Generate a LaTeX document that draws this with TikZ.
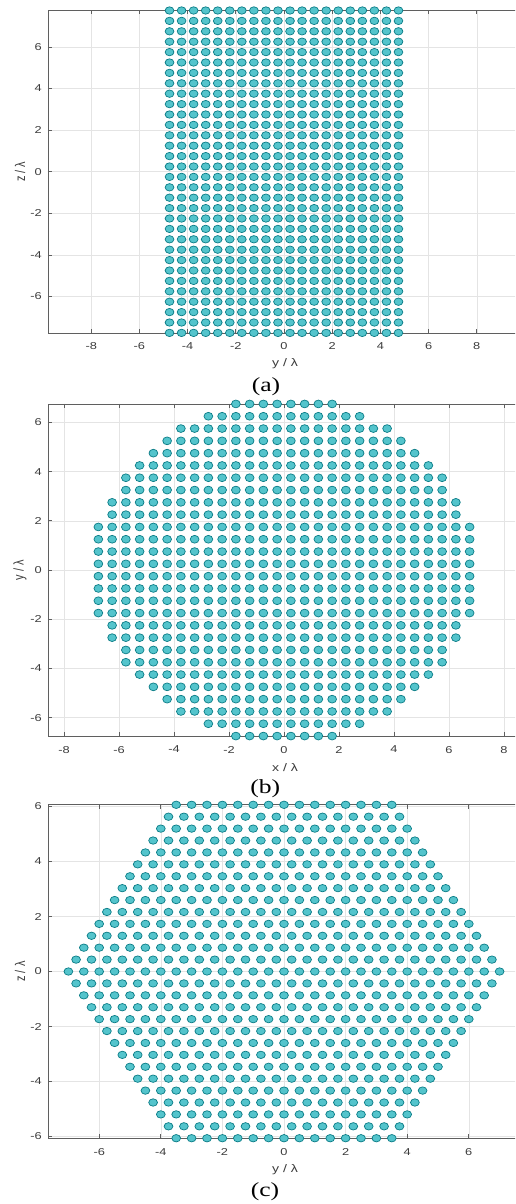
\documentclass[tikz,border=0pt]{standalone}
\usepackage{fontspec}
\setmainfont{Liberation Serif}
\newfontfamily\axfont{Liberation Sans}
\definecolor{dotfill}{RGB}{84,196,204}
\definecolor{dotedge}{RGB}{10,124,134}
\definecolor{gridcol}{RGB}{228,228,228}
\definecolor{axcol}{RGB}{95,95,95}
\definecolor{axtext}{RGB}{60,60,60}
\newcommand\sx[1]{\scalebox{1.28}[1]{#1}}
\newcommand\sy[1]{\scalebox{1}[1.28]{#1}}
\tikzset{
  gridline/.style={draw=gridcol, line width=0.5pt},
  axisline/.style={draw=axcol, line width=0.7pt},
  ticklab/.style={text=axtext, inner sep=0pt, font=\axfont\fontsize{10}{12}\selectfont},
  axlab/.style={text=axtext, inner sep=0pt, font=\axfont\fontsize{11}{13}\selectfont},
  caplab/.style={text=black, inner sep=0pt, font=\fontsize{20}{22}\selectfont},
  dotmark/.style={fill=dotfill, draw=dotedge, line width=0.7pt}
}
% #1 xmin #2 xmax #3 ymin #4 ymax #5 xticks #6 yticks #7 id
\newcommand\plotaxes[7]{%
  \foreach \t in {#5} {\draw[gridline] (\t,#3) -- (\t,#4);}
  \foreach \t in {#6} {\draw[gridline] (#1,\t) -- (#2,\t);}
  \draw[axisline] (#2,#3) -- (#1,#3) -- (#1,#4) -- (#2,#4);
  \foreach \t in {#5} {
    \draw[axisline] (\t,#3) -- ++(0,4pt);
    \draw[axisline] (\t,#4) -- ++(0,-4pt);
    \node[ticklab, anchor=center] (xt#7\t) at ([yshift=-13.5pt]\t,#3) {\sx{\t}};
  }
  \foreach \t in {#6} {
    \draw[axisline] (#1,\t) -- ++(4pt,0);
    \node[ticklab, anchor=east] (yt#7\t) at ([xshift=-6pt]#1,\t) {\sx{\t}};
  }
}
\begin{document}
\begin{tikzpicture}
\useasboundingbox (0pt,0pt) rectangle (515pt,-1204pt);
\clip (0pt,0pt) rectangle (515pt,-1204pt);
\fill[white] (0pt,0pt) rectangle (515pt,-1204pt);

% ---------------- (a) ----------------
\begin{scope}[shift={(284pt,-171.7pt)}, x={(24.1pt,0pt)}, y={(0pt,20.8pt)}]
  \plotaxes{-9.793}{9.8}{-7.75}{7.75}{-8,-6,...,8}{-6,-4,...,6}{a}
  \foreach \i in {0,...,19} {
    \foreach \j in {0,...,31} {
      \pgfmathsetmacro\xx{-4.75+0.5*\i}
      \pgfmathsetmacro\yy{-7.75+0.5*\j}
      \path[dotmark] (\xx,\yy) ellipse [x radius=4.4pt, y radius=3.7pt];
    }
  }
  \node[axlab] (xlabA) at ([xshift=1pt,yshift=-30.5pt]0,-7.75) {\sx{y / λ}};
  \node[axlab, rotate=90] (ylabA) at ([xshift=-28pt]-9.793,0) {\sy{z / λ}};
  \node[caplab] (capA) at ([xshift=-18pt,yshift=-54pt]0,-7.75) {\sx{(a)}};
\end{scope}

% ---------------- (b) ----------------
\begin{scope}[shift={(284pt,-570pt)}, x={(27.5pt,0pt)}, y={(0pt,24.6pt)}]
  \plotaxes{-8.582}{8.6}{-6.75}{6.75}{-8,-6,...,8}{-6,-4,...,6}{b}
  \foreach \i in {0,...,27} {
    \foreach \j in {0,...,27} {
      \pgfmathsetmacro\xx{-6.75+0.5*\i}
      \pgfmathsetmacro\yy{-6.75+0.5*\j}
      \pgfmathtruncatemacro\inside{((\xx)*(\xx)+(\yy)*(\yy)<=49.01)?1:0}
      \ifnum\inside=1
        \path[dotmark] (\xx,\yy) ellipse [x radius=4.4pt, y radius=3.9pt];
      \fi
    }
  }
  \node[axlab] (xlabB) at ([xshift=1pt,yshift=-32pt]0,-6.75) {\sx{x / λ}};
  \node[axlab, rotate=90] (ylabB) at ([xshift=-28pt]-8.582,0) {\sy{y / λ}};
  \node[caplab] (capB) at ([xshift=-18.7pt,yshift=-53pt]0,-6.75) {\sx{(b)}};
\end{scope}

% ---------------- (c) ----------------
\begin{scope}[shift={(284pt,-971.5pt)}, x={(30.8pt,0pt)}, y={(0pt,27.5pt)}]
  \plotaxes{-7.662}{7.7}{-6.062}{6.062}{-6,-4,...,6}{-6,-4,...,6}{c}
  \foreach \k in {-14,...,14} {
    \pgfmathtruncatemacro\ak{abs(\k)}
    \pgfmathtruncatemacro\nn{28-\ak}
    \pgfmathsetmacro\zz{0.4330127*\k}
    \pgfmathsetmacro\xs{-7+0.25*\ak}
    \foreach \m in {0,...,\nn} {
      \pgfmathsetmacro\xx{\xs+0.5*\m}
      \path[dotmark] (\xx,\zz) ellipse [x radius=4.4pt, y radius=3.7pt];
    }
  }
  \node[axlab] (xlabC) at ([xshift=1pt,yshift=-31pt]0,-6.062) {\sx{y / λ}};
  \node[axlab, rotate=90] (ylabC) at ([xshift=-28pt]-7.662,0) {\sy{z / λ}};
  \node[caplab] (capC) at ([xshift=-19pt,yshift=-53.5pt]0,-6.062) {\sx{(c)}};
\end{scope}
\end{tikzpicture}
\end{document}
